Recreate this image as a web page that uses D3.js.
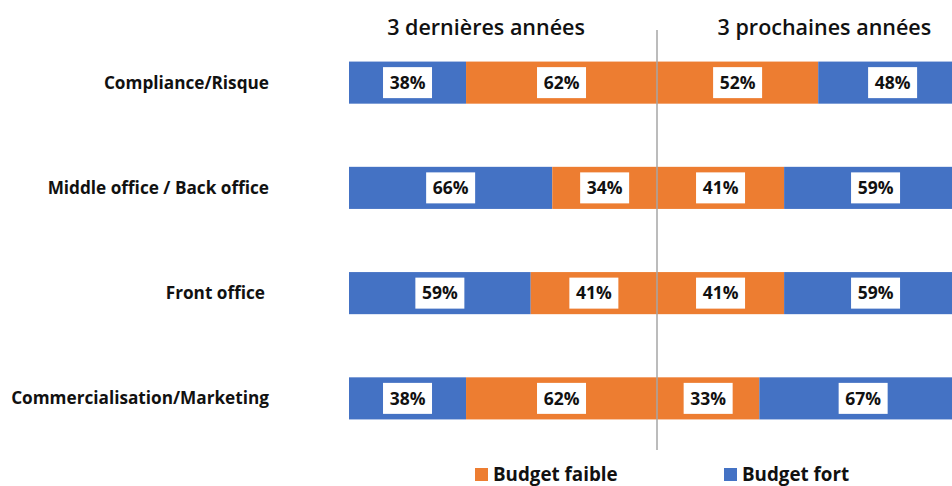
<!DOCTYPE html>
<html>
<head>
<meta charset="utf-8">
<script src="https://cdn.jsdelivr.net/npm/d3@7"></script>
<style>
  body { margin: 0; background: #fff; }
  svg { display: block; font-family: "Open Sans", "Noto Sans", sans-serif; }
</style>
</head>
<body>
<div id="chart"></div>
<script>
const categories = ["Compliance/Risque", "Middle office / Back office", "Front office", "Commercialisation/Marketing"];
const panels = ["3 dernières années", "3 prochaines années"];
const seriesNames = ["Budget faible", "Budget fort"];

// left panel: fort then faible; right panel: faible then fort
const pastFort = [38, 66, 59, 38];
const pastFaible = [62, 34, 41, 62];
const nextFaible = [52, 41, 41, 33];
const nextFort = [48, 59, 59, 67];

const WIDTH = 952, HEIGHT = 486;
const colors = { "Budget faible": "#ED7D31", "Budget fort": "#4472C4" };

const svg = d3.select("#chart").append("svg")
    .attr("width", WIDTH)
    .attr("height", HEIGHT);

const y = d3.scaleBand()
    .domain(categories)
    .range([30, 451])
    .paddingInner(0.6)
    .paddingOuter(0.3);

const xPast = d3.scaleLinear().domain([0, 100]).range([349, 657]);
const xNext = d3.scaleLinear().domain([0, 100]).range([657, 967]);

const panelData = [
    { title: panels[0], x: xPast, titleAt: 44.5, series: [["Budget fort", pastFort], ["Budget faible", pastFaible]] },
    { title: panels[1], x: xNext, titleAt: 54, series: [["Budget faible", nextFaible], ["Budget fort", nextFort]] }
];

// category labels
svg.append("g")
    .selectAll("text")
    .data(categories)
    .join("text")
    .attr("x", d => d == "Front office" ? 265 : 269)
    .attr("y", d => y(d) + y.bandwidth() / 2)
    .attr("dy", "0.35em")
    .attr("text-anchor", "end")
    .attr("font-size", 17.2)
    .attr("font-weight", "bold")
    .attr("fill", "#111")
    .text(d => d);

panelData.forEach(p => {
    const segs = [];
    categories.forEach((c, i) => {
        let start = 0;
        p.series.forEach(([name, vals]) => {
            segs.push({ cat: c, name: name, v: vals[i], x0: start, x1: start + vals[i] });
            start += vals[i];
        });
    });

    const g = svg.append("g");

    g.selectAll("rect.bar")
        .data(segs)
        .join("rect")
        .attr("class", "bar")
        .attr("x", d => p.x(d.x0))
        .attr("y", d => y(d.cat))
        .attr("width", d => p.x(d.x1) - p.x(d.x0))
        .attr("height", y.bandwidth())
        .attr("fill", d => colors[d.name]);

    g.selectAll("rect.box")
        .data(segs)
        .join("rect")
        .attr("class", "box")
        .attr("x", d => p.x((d.x0 + d.x1) / 2) - 24.5)
        .attr("y", d => y(d.cat) + y.bandwidth() / 2 - 15.5)
        .attr("width", 49)
        .attr("height", 31)
        .attr("fill", "#fff");

    g.selectAll("text.val")
        .data(segs)
        .join("text")
        .attr("class", "val")
        .attr("x", d => p.x((d.x0 + d.x1) / 2))
        .attr("y", d => y(d.cat) + y.bandwidth() / 2)
        .attr("dy", "0.36em")
        .attr("text-anchor", "middle")
        .attr("font-size", 17.5)
        .attr("font-weight", "bold")
        .attr("fill", "#111")
        .text(d => d.v + "%");

    svg.append("text")
        .attr("x", p.x(p.titleAt))
        .attr("y", 35)
        .attr("text-anchor", "middle")
        .attr("font-size", 21.5)
        .attr("font-weight", 600)
        .attr("fill", "#111")
        .text(p.title);
});

// divider
svg.append("line")
    .attr("x1", xPast(100))
    .attr("x2", xPast(100))
    .attr("y1", 30)
    .attr("y2", 450)
    .attr("stroke", "#a6a6a6")
    .attr("stroke-width", 1.5);

// legend
const legend = svg.append("g")
    .selectAll("g")
    .data(seriesNames)
    .join("g")
    .attr("transform", (d, i) => `translate(${[475, 724][i]}, 468)`);

legend.append("rect")
    .attr("width", 13)
    .attr("height", 13)
    .attr("fill", d => colors[d]);

legend.append("text")
    .attr("x", 18)
    .attr("y", 13)
    .attr("font-size", 18.8)
    .attr("font-weight", "bold")
    .attr("fill", "#111")
    .text(d => d);
</script>
</body>
</html>
